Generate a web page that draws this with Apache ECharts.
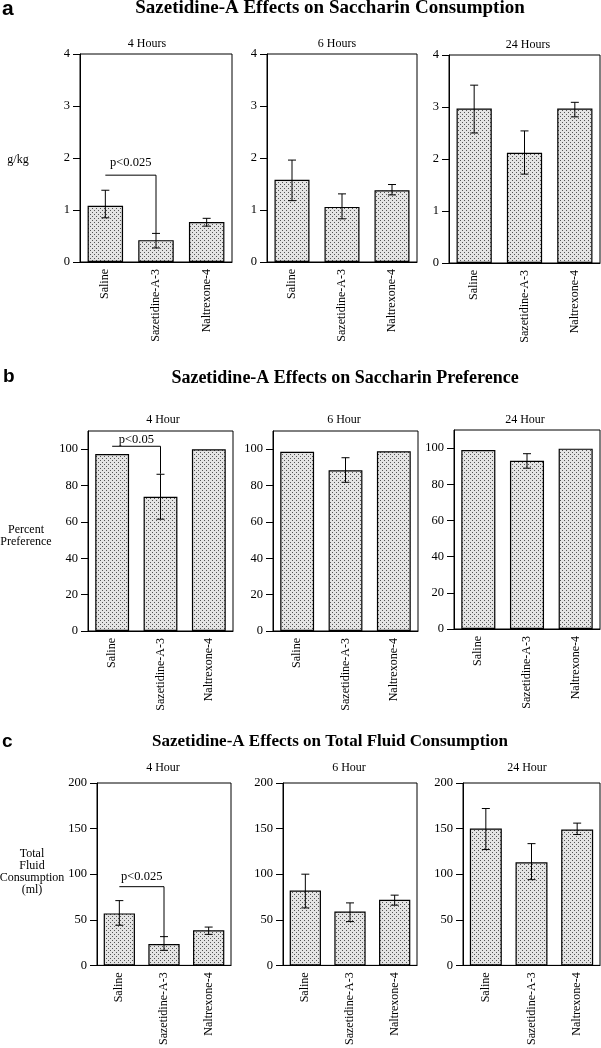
<!DOCTYPE html>
<html>
<head>
<meta charset="utf-8">
<script src="https://cdn.jsdelivr.net/npm/echarts@6/dist/echarts.min.js"></script>
<style>
html,body{margin:0;padding:0;background:#fff;}
#main{width:601px;height:1048px;}
</style>
</head>
<body>
<div id="main"></div>
<script>
// ---------- DATA ----------
const categories = ['Saline', 'Sazetidine-A-3', 'Naltrexone-4'];
const hoursA = ['4 Hours', '6 Hours', '24 Hours'];
const hoursBC = ['4 Hour', '6 Hour', '24 Hour'];
const titleA = 'Sazetidine-A Effects on Saccharin Consumption';
const titleB = 'Sazetidine-A Effects on Saccharin Preference';
const titleC = 'Sazetidine-A Effects on Total Fluid Consumption';
const yNameA = 'g/kg';
const yNameB = 'Percent\nPreference';
const yNameC = 'Total\nFluid\nConsumption\n(ml)';

// a: saccharin consumption (g/kg)
const cons4Mean = [1.08, 0.42, 0.77];
const cons4Low = [0.85, 0.27, 0.69];
const cons4High = [1.38, 0.55, 0.84];
const cons6Mean = [1.58, 1.06, 1.38];
const cons6Low = [1.18, 0.83, 1.29];
const cons6High = [1.96, 1.31, 1.49];
const cons24Mean = [2.97, 2.12, 2.97];
const cons24Low = [2.50, 1.71, 2.81];
const cons24High = [3.42, 2.54, 3.09];

// b: percent preference
const pref4Mean = [97.3, 73.8, 99.9];
const pref4Low = [null, 61.5, null];
const pref4High = [null, 86.2, null];
const pref6Mean = [98.6, 88.4, 98.9];
const pref6Low = [null, 81.8, null];
const pref6High = [null, 95.3, null];
const pref24Mean = [98.9, 93.0, 99.7];
const pref24Low = [null, 88.9, null];
const pref24High = [null, 96.9, null];

// c: total fluid consumption (ml)
const fluid4Mean = [57, 23.5, 38.5];
const fluid4Low = [44, 16.5, 34];
const fluid4High = [71, 31.5, 42];
const fluid6Mean = [82, 59, 72];
const fluid6Low = [63, 48, 66];
const fluid6High = [100, 68.5, 77];
const fluid24Mean = [150, 113, 149];
const fluid24Low = [127, 94, 143.5];
const fluid24High = [172, 133.5, 156];

// significance brackets: [fromCategory, toCategory, bracketValue, dropToValue]
const sigA = [0, 1, 1.67, 0.55];
const sigB = [0, 1, 101.6, 86.5];
const sigC = [0, 1, 86.3, 31];
const sigLabelA = 'p<0.025';
const sigLabelB = 'p<0.05';
const sigLabelC = 'p<0.025';

// axis ticks
const ticksA = [0, 1, 2, 3, 4];
const ticksB = [0, 20, 40, 60, 80, 100];
const ticksC = [0, 50, 100, 150, 200];

// ---------- LAYOUT ----------
const serif = '"Liberation Serif", "Times New Roman", serif';
const sans = '"Liberation Sans", Arial, sans-serif';

const panels = [
  {grid:{left:80, top:54, width:152, height:208}, mean:cons4Mean, low:cons4Low, high:cons4High, max:4, interval:1, ticks:ticksA, sub:hoursA[0], subPos:[147,44], sig:sigA, sigLabel:sigLabelA, sigGap:12},
  {grid:{left:267, top:54, width:150, height:208}, mean:cons6Mean, low:cons6Low, high:cons6High, max:4, interval:1, ticks:ticksA, sub:hoursA[1], subPos:[337,44]},
  {grid:{left:449, top:55, width:151, height:208}, mean:cons24Mean, low:cons24Low, high:cons24High, max:4, interval:1, ticks:ticksA, sub:hoursA[2], subPos:[528,45]},
  {grid:{left:88, top:431, width:145, height:200}, mean:pref4Mean, low:pref4Low, high:pref4High, max:110, interval:20, ticks:ticksB, sub:hoursBC[0], subPos:[163,420], sig:sigB, sigLabel:sigLabelB, sigGap:7},
  {grid:{left:273, top:431, width:145, height:200}, mean:pref6Mean, low:pref6Low, high:pref6High, max:110, interval:20, ticks:ticksB, sub:hoursBC[1], subPos:[344,420]},
  {grid:{left:454, top:430, width:146, height:199}, mean:pref24Mean, low:pref24Low, high:pref24High, max:110, interval:20, ticks:ticksB, sub:hoursBC[2], subPos:[525,420]},
  {grid:{left:97, top:783, width:134, height:186}, mean:fluid4Mean, low:fluid4Low, high:fluid4High, max:200, interval:50, ticks:ticksC, sub:hoursBC[0], subPos:[163,768], sig:sigC, sigLabel:sigLabelC, sigGap:10},
  {grid:{left:283, top:783, width:134, height:186}, mean:fluid6Mean, low:fluid6Low, high:fluid6High, max:200, interval:50, ticks:ticksC, sub:hoursBC[1], subPos:[349,768]},
  {grid:{left:463, top:783, width:137, height:186}, mean:fluid24Mean, low:fluid24Low, high:fluid24High, max:200, interval:50, ticks:ticksC, sub:hoursBC[2], subPos:[527,768]}
];

// stipple pattern
const pc = document.createElement('canvas');
pc.width = 4; pc.height = 4;
const pctx = pc.getContext('2d');
pctx.fillStyle = '#e4e4e4'; pctx.fillRect(0,0,4,4);
pctx.fillStyle = '#555555';
pctx.fillRect(0,0,1,1); pctx.fillRect(2,2,1,1);
const stipple = {image: pc, repeat: 'repeat'};

const grids = [], xAxes = [], yAxes = [], series = [];
const graphics = [];

panels.forEach((p, i) => {
  grids.push(Object.assign({show:true, borderColor:'#000', borderWidth:1, backgroundColor:'transparent', containLabel:false}, p.grid));
  xAxes.push({
    type:'category', gridIndex:i, data:categories,
    axisLine:{lineStyle:{color:'#000', width:1}},
    axisTick:{alignWithLabel:true, length:6, lineStyle:{color:'#000'}},
    axisLabel:{rotate:90, interval:0, margin:7, fontFamily:serif, fontSize:12, color:'#000'}
  });
  yAxes.push({
    type:'value', gridIndex:i, min:0, max:p.max, interval:p.interval,
    splitLine:{show:false},
    axisLine:{show:true, lineStyle:{color:'#000', width:1}},
    axisTick:{show:true, length:7, customValues:p.ticks, lineStyle:{color:'#000'}},
    axisLabel:{margin:10, customValues:p.ticks, fontFamily:serif, fontSize:12.5, color:'#000'}
  });
  series.push({
    type:'bar', xAxisIndex:i, yAxisIndex:i, data:p.mean, barWidth:'70%',
    itemStyle:{color:stipple, borderColor:'#000', borderWidth:1.2},
    silent:true, z:2
  });
  const errData = [];
  p.mean.forEach((m, k) => { if (p.low[k] != null && p.high[k] != null) errData.push([k, p.low[k], p.high[k]]); });
  series.push({
    type:'custom', xAxisIndex:i, yAxisIndex:i, data:errData, z:5, silent:true,
    encode:{x:0, y:[1,2]},
    renderItem:function(params, api){
      const lo = api.coord([api.value(0), api.value(1)]);
      const hi = api.coord([api.value(0), api.value(2)]);
      const hw = 4;
      const st = {stroke:'#000', lineWidth:1, fill:null};
      return {type:'group', children:[
        {type:'line', shape:{x1:lo[0], y1:lo[1], x2:hi[0], y2:hi[1]}, style:st},
        {type:'line', shape:{x1:hi[0]-hw, y1:hi[1], x2:hi[0]+hw, y2:hi[1]}, style:st},
        {type:'line', shape:{x1:lo[0]-hw, y1:lo[1], x2:lo[0]+hw, y2:lo[1]}, style:st}
      ]};
    }
  });
  if (p.sig) {
    const gap = p.sigGap, label = p.sigLabel;
    series.push({
      type:'custom', xAxisIndex:i, yAxisIndex:i, data:[p.sig], z:6, silent:true,
      encode:{x:[0,1], y:[2,3]},
      renderItem:function(params, api){
        const a = api.coord([api.value(0), api.value(2)]);
        const b = api.coord([api.value(1), api.value(2)]);
        const c = api.coord([api.value(1), api.value(3)]);
        return {type:'group', children:[
          {type:'polyline', shape:{points:[a, b, c]}, style:{stroke:'#000', lineWidth:1, fill:null}},
          {type:'text', x:(a[0]+b[0])/2, y:a[1]-gap, style:{text:label, font:'12.5px ' + serif, fill:'#000', align:'center', verticalAlign:'middle'}}
        ]};
      }
    });
  }
  graphics.push({type:'text', x:p.subPos[0], y:p.subPos[1], style:{text:p.sub, font:'12px ' + serif, fill:'#000', align:'center', verticalAlign:'middle'}});
});

// panel letters, titles, y-axis names
graphics.push(
  {type:'text', x:2, y:9, style:{text:'a', font:'bold 21px ' + sans, fill:'#000', align:'left', verticalAlign:'middle'}},
  {type:'text', x:330, y:8, style:{text:titleA, font:'bold 19px ' + serif, fill:'#000', align:'center', verticalAlign:'middle'}},
  {type:'text', x:3, y:377, style:{text:'b', font:'bold 19px ' + sans, fill:'#000', align:'left', verticalAlign:'middle'}},
  {type:'text', x:345, y:378, style:{text:titleB, font:'bold 18px ' + serif, fill:'#000', align:'center', verticalAlign:'middle'}},
  {type:'text', x:2, y:742, style:{text:'c', font:'bold 19px ' + sans, fill:'#000', align:'left', verticalAlign:'middle'}},
  {type:'text', x:330, y:742, style:{text:titleC, font:'bold 17px ' + serif, fill:'#000', align:'center', verticalAlign:'middle'}},
  {type:'text', x:18, y:160, style:{text:yNameA, font:'12px ' + serif, fill:'#000', align:'center', verticalAlign:'middle'}},
  {type:'text', x:26, y:536, style:{text:yNameB, font:'12px ' + serif, lineHeight:12, fill:'#000', align:'center', verticalAlign:'middle'}},
  {type:'text', x:32, y:872, style:{text:yNameC, font:'12px ' + serif, lineHeight:12, fill:'#000', align:'center', verticalAlign:'middle'}}
);

const chart = echarts.init(document.getElementById('main'), null, {renderer:'canvas'});
chart.setOption({
  animation:false,
  backgroundColor:'#fff',
  grid:grids, xAxis:xAxes, yAxis:yAxes, series:series,
  graphic:graphics
});
</script>
</body>
</html>
